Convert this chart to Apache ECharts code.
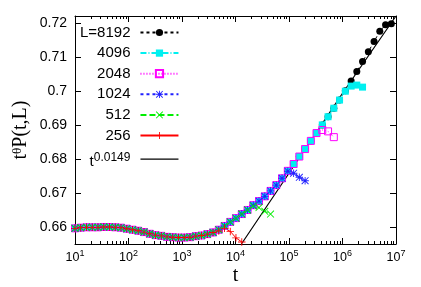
<!DOCTYPE html>
<html><head><meta charset="utf-8">
<script src="https://cdn.jsdelivr.net/npm/echarts@6/dist/echarts.min.js"></script>
<style>html,body{margin:0;padding:0;background:#fff}#c{width:421px;height:287px}</style>
</head><body><div id="c"></div>
<script>
// ---- data ----
const tValues = [10, 12.8, 16.4, 21.0, 26.9, 34.5, 44.2, 56.5, 72.4, 92.8, 119, 152, 195, 250, 320, 410, 525, 672, 861, 1100, 1410, 1810, 2320, 2970, 3800, 4870, 6240, 7990, 10200, 13100, 16800, 21500, 27500, 35300, 45200, 57900, 74100, 95000, 122000, 156000, 200000, 256000, 327000, 419000, 537000, 688000, 881000, 1130000, 1450000, 1850000, 2370000, 3040000, 3890000, 4980000, 6380000, 8180000];

const yL8192 = [0.6596, 0.6598, 0.6599, 0.6599, 0.6599, 0.6600, 0.6600, 0.6599, 0.6598, 0.6595, 0.6592, 0.6589, 0.6585, 0.6580, 0.6576, 0.6574, 0.6571, 0.6570, 0.6569, 0.6569, 0.6570, 0.6573, 0.6575, 0.6579, 0.6584, 0.6592, 0.6603, 0.6615, 0.6626, 0.6638, 0.6650, 0.6664, 0.6676, 0.6690, 0.6706, 0.6723, 0.6743, 0.6765, 0.6785, 0.6807, 0.6829, 0.6853, 0.6876, 0.6900, 0.6924, 0.6949, 0.6973, 0.7000, 0.7029, 0.7057, 0.7086, 0.7115, 0.7145, 0.7175, 0.7194, 0.7197];
const yL4096 = [0.6596, 0.6598, 0.6599, 0.6599, 0.6599, 0.6600, 0.6600, 0.6599, 0.6598, 0.6595, 0.6592, 0.6589, 0.6585, 0.6580, 0.6576, 0.6574, 0.6571, 0.6570, 0.6569, 0.6569, 0.6570, 0.6573, 0.6575, 0.6579, 0.6584, 0.6592, 0.6603, 0.6615, 0.6626, 0.6638, 0.6650, 0.6664, 0.6676, 0.6690, 0.6706, 0.6723, 0.6743, 0.6765, 0.6785, 0.6807, 0.6829, 0.6853, 0.6876, 0.6900, 0.6924, 0.6949, 0.6973, 0.6999, 0.7014, 0.7017, 0.7011];
const yL2048 = [0.6596, 0.6598, 0.6599, 0.6599, 0.6599, 0.6600, 0.6600, 0.6599, 0.6598, 0.6595, 0.6592, 0.6589, 0.6585, 0.6580, 0.6576, 0.6574, 0.6571, 0.6570, 0.6569, 0.6569, 0.6570, 0.6573, 0.6575, 0.6579, 0.6584, 0.6592, 0.6603, 0.6615, 0.6626, 0.6638, 0.6650, 0.6664, 0.6676, 0.6690, 0.6706, 0.6723, 0.6743, 0.6765, 0.6785, 0.6807, 0.6829, 0.6853, 0.6876, 0.6885, 0.6881, 0.6864];
const yL1024 = [0.6596, 0.6598, 0.6599, 0.6599, 0.6599, 0.6600, 0.6600, 0.6599, 0.6598, 0.6595, 0.6592, 0.6589, 0.6585, 0.6580, 0.6576, 0.6574, 0.6571, 0.6570, 0.6569, 0.6569, 0.6570, 0.6573, 0.6575, 0.6579, 0.6584, 0.6592, 0.6603, 0.6615, 0.6626, 0.6638, 0.6650, 0.6664, 0.6676, 0.6690, 0.6706, 0.6723, 0.6743, 0.6764, 0.6758, 0.6746, 0.6736];
const yL512 = [0.6596, 0.6598, 0.6599, 0.6599, 0.6599, 0.6600, 0.6600, 0.6599, 0.6598, 0.6595, 0.6592, 0.6589, 0.6585, 0.6580, 0.6576, 0.6574, 0.6571, 0.6570, 0.6569, 0.6569, 0.6570, 0.6573, 0.6575, 0.6579, 0.6584, 0.6592, 0.6603, 0.6615, 0.6626, 0.6638, 0.6650, 0.6662, 0.6657, 0.6646, 0.6638];
const yL256 = [0.6596, 0.6598, 0.6599, 0.6599, 0.6599, 0.6600, 0.6600, 0.6599, 0.6598, 0.6595, 0.6592, 0.6589, 0.6585, 0.6580, 0.6576, 0.6574, 0.6571, 0.6570, 0.6569, 0.6569, 0.6570, 0.6573, 0.6575, 0.6579, 0.6584, 0.6588, 0.6596, 0.6587, 0.6568, 0.6556];

// fit t^0.0149, points
const fitT = [12900, 100000, 1000000, 10000000];
const fitY = [0.6550, 0.6758, 0.6993, 0.7220];

const seriesNames = ['L=8192', '4096', '2048', '1024', '512', '256'];
const fitName = 't^0.0149';

const xMajorTicks = [1e1, 1e2, 1e3, 1e4, 1e5, 1e6, 1e7];
const xMinorMultipliers = [2, 3, 4, 5, 6, 7, 8, 9];
const yTicks = [0.66, 0.67, 0.68, 0.69, 0.70, 0.71, 0.72];

// ---- build ----
const xMinorTicks = [];
xMajorTicks.slice(0, -1).forEach(d => xMinorMultipliers.forEach(m => xMinorTicks.push(d * m)));

const PLUS = 'path://M4.4,0h1.2v10h-1.2z M0,4.4h10v1.2h-10z';
const CROSS = 'path://M0.85,0L10,9.15L9.15,10L0,0.85Z M9.15,0L10,0.85L0.85,10L0,9.15Z';
const STAR = 'path://M4.4,0h1.2v10h-1.2z M0,4.4h10v1.2h-10z M0.85,0L10,9.15L9.15,10L0,0.85Z M9.15,0L10,0.85L0.85,10L0,9.15Z';

const styles = [
  {y: yL8192, color: '#000000', fill: '#000000', symbol: 'circle', size: 7, border: 0, dash: [3, 3]},
  {y: yL4096, color: '#00f0f0', fill: '#00f0f0', symbol: 'rect', size: 7, border: 0, dash: [6, 2, 1, 2]},
  {y: yL2048, color: '#ff00ff', fill: 'rgba(0,0,0,0)', symbol: 'rect', size: 7, border: 1, dash: [1, 2]},
  {y: yL1024, color: '#2020ff', fill: '#2020ff', symbol: STAR, size: 7.5, border: 0, dash: [3, 3]},
  {y: yL512, color: '#00ee00', fill: '#00ee00', symbol: CROSS, size: 7.5, border: 0, dash: [6, 3]},
  {y: yL256, color: '#ff0000', fill: '#ff0000', symbol: PLUS, size: 7.5, border: 0, dash: 'solid'}
];

const series = styles.map((s, i) => ({
  name: seriesNames[i],
  type: 'line',
  xAxisIndex: 0, yAxisIndex: 0,
  data: s.y.map((v, k) => [tValues[k], v]),
  symbol: s.symbol,
  symbolSize: s.size,
  showSymbol: true,
  lineStyle: {color: s.color, width: 1, type: s.dash},
  itemStyle: {color: s.fill, borderColor: s.color, borderWidth: s.border},
  emphasis: {disabled: true},
  animation: false
}));
series.push({
  name: fitName,
  type: 'line',
  xAxisIndex: 0, yAxisIndex: 0,
  data: fitT.map((t, k) => [t, fitY[k]]),
  symbol: 'none',
  lineStyle: {color: '#000', width: 1.2, type: 'solid'},
  itemStyle: {color: '#000'},
  emphasis: {disabled: true},
  animation: false
});

const axisLineStyle = {color: '#000', width: 1};
const baseX = {type: 'log', logBase: 10, min: 10, max: 1e7, splitLine: {show: false}, minorSplitLine: {show: false}, minorTick: {show: false}};
const baseY = {type: 'value', min: 0.655, max: 0.722, splitLine: {show: false}};

const legendData = seriesNames.map(n => ({name: n}));
legendData.push({name: fitName, icon: 'path://M0,0H38V1.3H0Z'});

const option = {
  backgroundColor: '#fff',
  animation: false,
  grid: {left: 75, right: 25, top: 16, bottom: 43, containLabel: false, outerBoundsMode: 'none'},
  xAxis: [
    Object.assign({}, baseX, {
      position: 'bottom',
      axisLine: {show: true, onZero: false, lineStyle: axisLineStyle},
      axisTick: {show: true, inside: true, length: 6, customValues: xMajorTicks, lineStyle: axisLineStyle},
      axisLabel: {
        show: true, customValues: xMajorTicks, margin: 5, color: '#000',
        formatter: v => '{b|10}{e|' + Math.round(Math.log10(v)) + '}',
        rich: {
          b: {fontFamily: 'Liberation Sans', fontSize: 12.5, lineHeight: 13, padding: [4, 0, 0, 0], color: '#000'},
          e: {fontFamily: 'Liberation Sans', fontSize: 9, lineHeight: 9, verticalAlign: 'top', color: '#000'}
        }
      },
      name: 't', nameLocation: 'middle', nameGap: 22, nameMoveOverlap: false,
      nameTextStyle: {fontFamily: 'Liberation Serif', fontSize: 20, color: '#000'}
    }),
    Object.assign({}, baseX, {
      position: 'bottom',
      axisLine: {show: false},
      axisTick: {show: true, inside: true, length: 3, customValues: xMinorTicks, lineStyle: axisLineStyle},
      axisLabel: {show: false}
    }),
    Object.assign({}, baseX, {
      position: 'top',
      axisLine: {show: true, onZero: false, lineStyle: axisLineStyle},
      axisTick: {show: true, inside: true, length: 6, customValues: xMajorTicks, lineStyle: axisLineStyle},
      axisLabel: {show: false}
    }),
    Object.assign({}, baseX, {
      position: 'top',
      axisLine: {show: false},
      axisTick: {show: true, inside: true, length: 3, customValues: xMinorTicks, lineStyle: axisLineStyle},
      axisLabel: {show: false}
    })
  ],
  yAxis: [
    Object.assign({}, baseY, {
      position: 'left',
      axisLine: {show: true, onZero: false, lineStyle: axisLineStyle},
      axisTick: {show: true, inside: true, length: 6, customValues: yTicks, lineStyle: axisLineStyle},
      axisLabel: {show: true, customValues: yTicks, margin: 8, fontFamily: 'Liberation Sans', fontSize: 14, color: '#000', formatter: v => String(v)},
      name: '{b|t}{s|θ}{b|P(t,L)}', nameLocation: 'middle', nameGap: 44, nameMoveOverlap: false,
      nameTextStyle: {
        color: '#000',
        rich: {
          b: {fontFamily: 'Liberation Serif', fontSize: 20, lineHeight: 20, color: '#000'},
          s: {fontFamily: 'Liberation Serif', fontSize: 13, lineHeight: 12, verticalAlign: 'top', color: '#000'}
        }
      }
    }),
    Object.assign({}, baseY, {
      position: 'right',
      axisLine: {show: true, onZero: false, lineStyle: axisLineStyle},
      axisTick: {show: true, inside: true, length: 6, customValues: yTicks, lineStyle: axisLineStyle},
      axisLabel: {show: false}
    })
  ],
  legend: {
    orient: 'vertical', left: 80, top: 25, padding: 0,
    itemWidth: 38, itemHeight: 9, itemGap: 5.6, align: 'right', selectedMode: false,
    data: legendData,
    formatter: name => name === fitName ? '{t|t}{s|0.0149}' : name,
    textStyle: {
      fontFamily: 'Liberation Sans', fontSize: 15, lineHeight: 14, color: '#000', padding: [0, 5, 0, 0],
      rich: {
        t: {fontFamily: 'Liberation Sans', fontSize: 15, lineHeight: 14, padding: [6, 0, 0, 0], color: '#000'},
        s: {fontFamily: 'Liberation Sans', fontSize: 12, lineHeight: 11, verticalAlign: 'top', color: '#000'}
      }
    }
  },
  series: series
};

const chart = echarts.init(document.getElementById('c'), null, {renderer: 'canvas'});
chart.setOption(option);
</script>
</body></html>
